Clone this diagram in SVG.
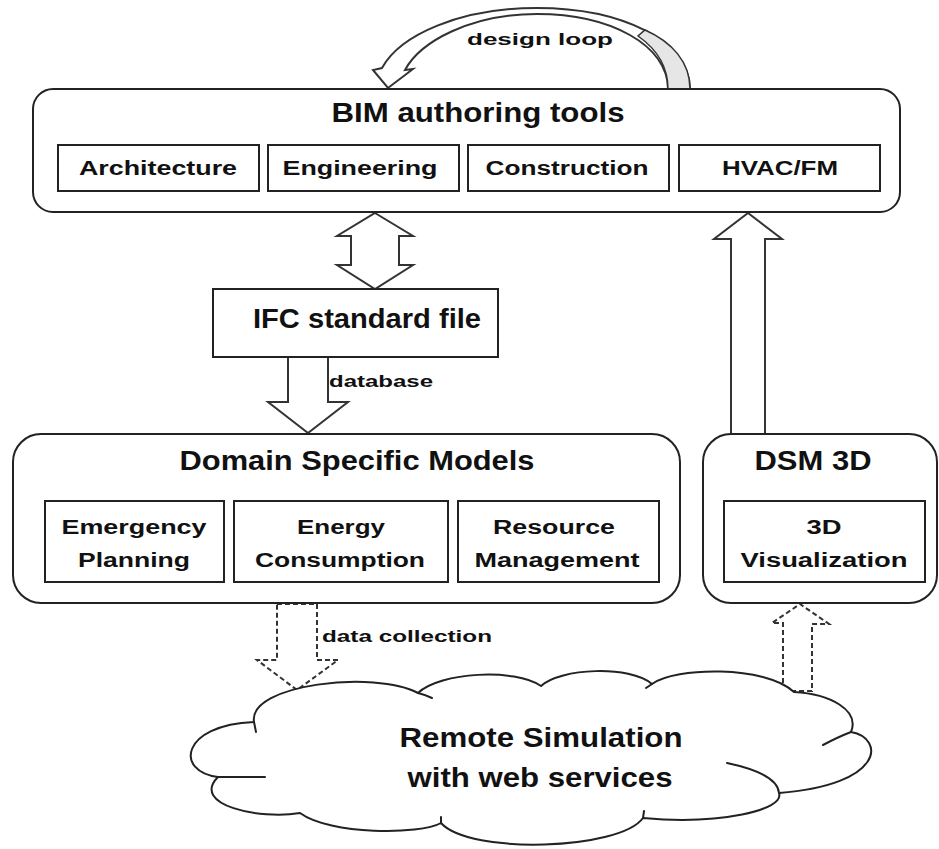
<svg xmlns="http://www.w3.org/2000/svg" width="939" height="849" viewBox="0 0 939 849">
<style>
  .box { fill: #fff; stroke: #222; stroke-width: 2; }
  .inner { fill: #fff; stroke: #222; stroke-width: 2; }
  .arrow { fill: #fff; stroke: #333; stroke-width: 2; stroke-linejoin: miter; }
  .dash { fill: #fff; stroke: #333; stroke-width: 2; stroke-dasharray: 5 3; }
  .cloud { fill: #fff; stroke: #222; stroke-width: 2; stroke-linejoin: round; }
  .hook { fill: none; stroke: #222; stroke-width: 2; stroke-linecap: round; }
  text { font-family: "Liberation Sans", Arial, sans-serif; font-weight: bold; fill: #111; }
  .title { font-size: 27px; text-anchor: middle; }
  .lab { font-size: 20px; text-anchor: middle; }
  .small { font-size: 17px; }
</style>

<g id="connectors">
  <!-- design loop curved arrow -->
  <path class="arrow" d="M 690 89 C 690 40 620 8 537 8 C 460 8 400 35 382 68 L 373 70 L 388 88 L 413 69 L 405 70 C 420 42 470 14 537 14 C 610 14 668 45 668 89 Z"/>
  <path d="M 690 89 C 690 62 672 42 645 30 L 638 36 C 658 50 668 68 668 89 Z" fill="#e6e6e6" stroke="#333" stroke-width="1.5"/>
  <!-- BIM <-> IFC double arrow -->
  <polygon class="arrow" points="375,213 413,236 399,236 399,265 413,265 375,289 337,265 351,265 351,236 337,236"/>
  <!-- IFC -> DSM (database) -->
  <polygon class="arrow" points="288,357 328,357 328,402 348,402 308,433 268,402 288,402"/>
  <!-- DSM 3D -> BIM -->
  <polygon class="arrow" points="731,434 731,239 714,239 748,213 782,239 765,239 765,434"/>
  <!-- data collection dashed -->
  <polygon class="dash" points="277,604 317,604 317,660 338,660 297,690 257,660 277,660"/>
  <!-- cloud -> DSM 3D dashed -->
  <polygon class="dash" points="783,691 783,623 772,623 800,604 829,624 812,624 812,691"/>
</g>

<g id="bim">
  <rect class="box" x="33" y="89" width="867" height="123" rx="20" ry="20"/>
  <text class="title" x="478" y="122" textLength="293" lengthAdjust="spacingAndGlyphs">BIM authoring tools</text>
  <g id="architecture">
    <rect class="inner" x="58" y="145" width="201" height="46"/>
    <text class="lab" x="158" y="175" textLength="158" lengthAdjust="spacingAndGlyphs">Architecture</text>
  </g>
  <g id="engineering">
    <rect class="inner" x="268" y="145" width="191" height="46"/>
    <text class="lab" x="360" y="175" textLength="155" lengthAdjust="spacingAndGlyphs">Engineering</text>
  </g>
  <g id="construction">
    <rect class="inner" x="468" y="145" width="201" height="46"/>
    <text class="lab" x="567" y="175" textLength="163" lengthAdjust="spacingAndGlyphs">Construction</text>
  </g>
  <g id="hvac">
    <rect class="inner" x="679" y="145" width="201" height="46"/>
    <text class="lab" x="780" y="175" textLength="116" lengthAdjust="spacingAndGlyphs">HVAC/FM</text>
  </g>
</g>

<g id="ifc">
  <rect class="box" x="213" y="289" width="285" height="68"/>
  <text class="title" x="367" y="328" textLength="228" lengthAdjust="spacingAndGlyphs">IFC standard file</text>
</g>

<g id="dsm">
  <rect class="box" x="13" y="434" width="667" height="169" rx="28" ry="28"/>
  <text class="title" x="357" y="470" textLength="355" lengthAdjust="spacingAndGlyphs">Domain Specific Models</text>
  <g id="emergency">
    <rect class="inner" x="45" y="501" width="179" height="81"/>
    <text class="lab" x="134" y="534" textLength="145" lengthAdjust="spacingAndGlyphs">Emergency</text>
    <text class="lab" x="134" y="567" textLength="112" lengthAdjust="spacingAndGlyphs">Planning</text>
  </g>
  <g id="energy">
    <rect class="inner" x="234" y="501" width="214" height="81"/>
    <text class="lab" x="341" y="534" textLength="88" lengthAdjust="spacingAndGlyphs">Energy</text>
    <text class="lab" x="340" y="567" textLength="170" lengthAdjust="spacingAndGlyphs">Consumption</text>
  </g>
  <g id="resource">
    <rect class="inner" x="458" y="501" width="201" height="81"/>
    <text class="lab" x="554" y="534" textLength="122" lengthAdjust="spacingAndGlyphs">Resource</text>
    <text class="lab" x="557" y="567" textLength="165" lengthAdjust="spacingAndGlyphs">Management</text>
  </g>
</g>

<g id="dsm3d">
  <rect class="box" x="703" y="434" width="234" height="169" rx="28" ry="28"/>
  <text class="title" x="813" y="470" textLength="117" lengthAdjust="spacingAndGlyphs">DSM 3D</text>
  <g id="visualization">
    <rect class="inner" x="724" y="501" width="201" height="81"/>
    <text class="lab" x="824" y="534" textLength="35" lengthAdjust="spacingAndGlyphs">3D</text>
    <text class="lab" x="824" y="567" textLength="167" lengthAdjust="spacingAndGlyphs">Visualization</text>
  </g>
</g>

<g id="cloud">
  <path class="cloud" d="M 254 722 C 248 684 375 670 418 693 C 440 672 515 668 541 686 C 560 668 630 665 652 684 C 675 667 765 665 794 692 C 830 694 860 710 851 732 C 885 738 885 785 779 793 C 785 810 720 825 643 818 C 620 850 470 855 441 823 C 420 835 330 835 300 813 C 260 820 190 805 218 777 C 175 772 180 725 254 722 Z"/>
  <path class="hook" d="M 418 693 Q 426 695 432 698"/>
  <path class="hook" d="M 652 684 L 646 688"/>
  <path class="hook" d="M 851 732 Q 838 737 823 745"/>
  <path class="hook" d="M 779 793 C 778 780 760 770 727 763"/>
  <path class="hook" d="M 643 818 L 644 811"/>
  <path class="hook" d="M 441 823 L 441 817"/>
  <path class="hook" d="M 218 777 L 265 777"/>
  <path class="hook" d="M 254 722 L 256 732"/>
  <text class="title" x="541" y="747" textLength="283" lengthAdjust="spacingAndGlyphs">Remote Simulation</text>
  <text class="title" x="540" y="787" textLength="265" lengthAdjust="spacingAndGlyphs">with web services</text>
</g>

<g id="labels">
  <text class="small" x="467" y="45" textLength="146" lengthAdjust="spacingAndGlyphs">design loop</text>
  <text class="small" x="329" y="387" textLength="104" lengthAdjust="spacingAndGlyphs">database</text>
  <text class="small" x="322" y="642" textLength="170" lengthAdjust="spacingAndGlyphs">data collection</text>
</g>
</svg>
